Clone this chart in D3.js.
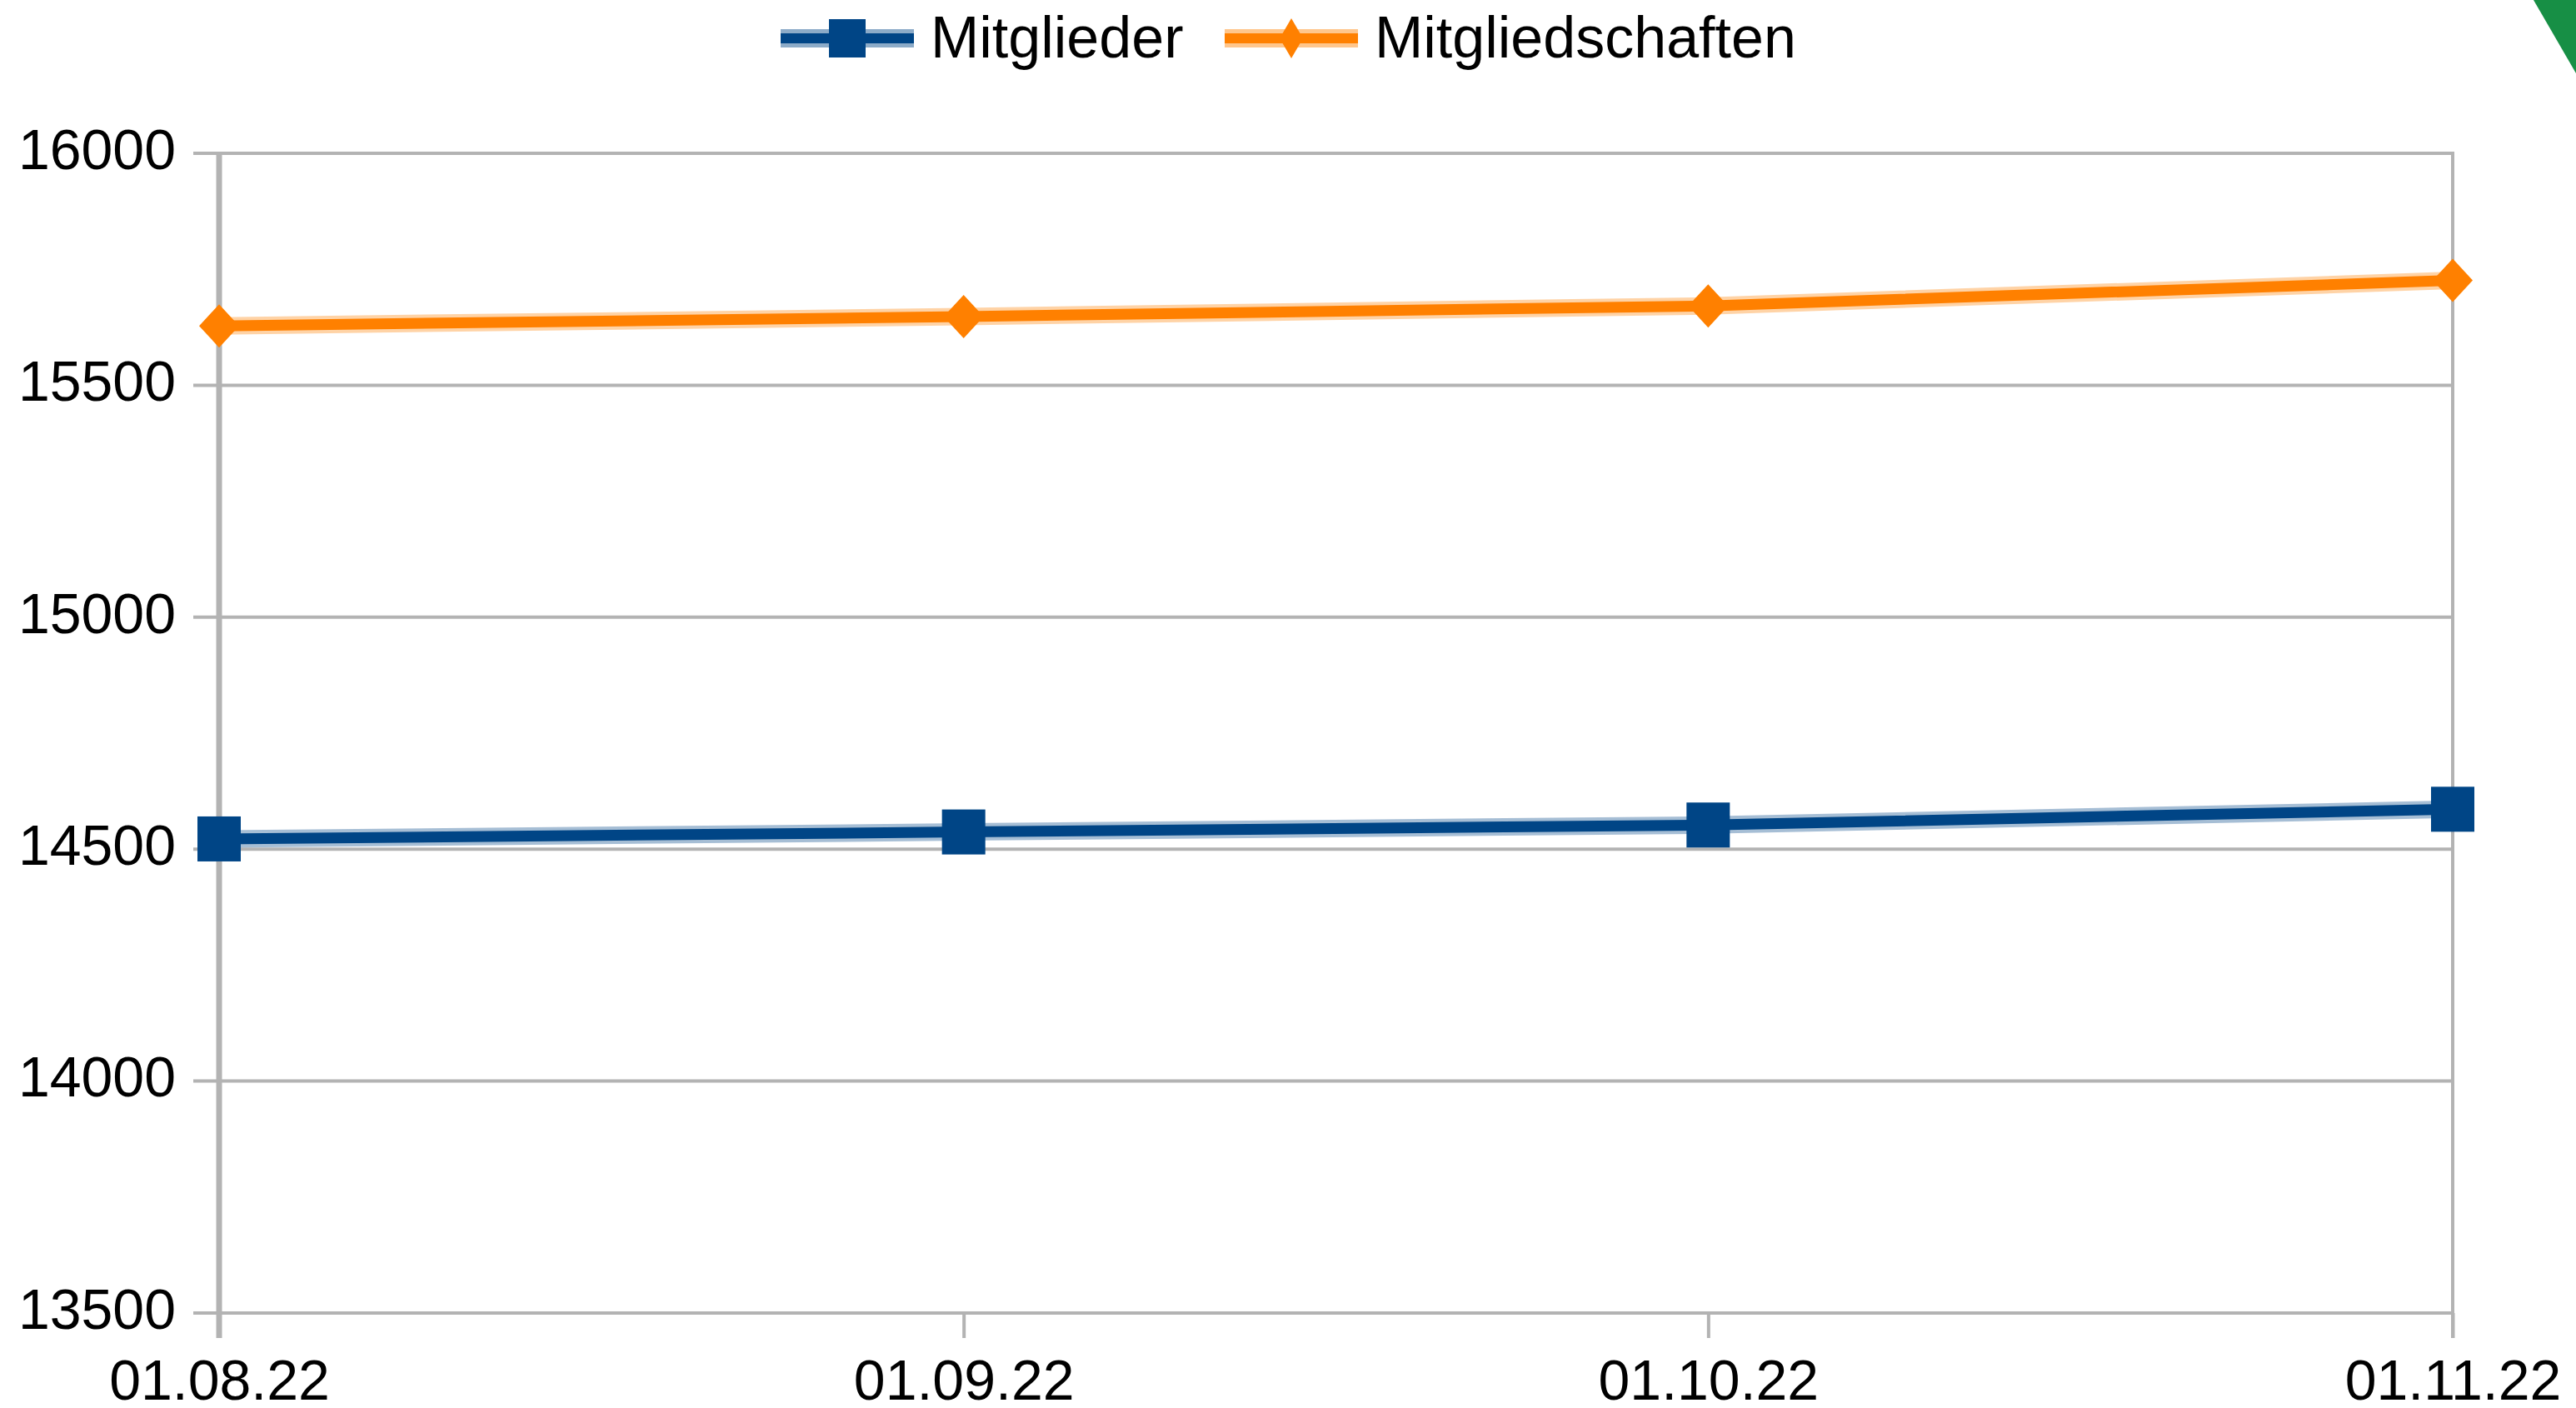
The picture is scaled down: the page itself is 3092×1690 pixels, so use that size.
<!DOCTYPE html>
<html>
<head>
<meta charset="utf-8">
<script src="https://cdn.jsdelivr.net/npm/d3@7"></script>
<style>
  html, body { margin: 0; padding: 0; background: #fff; }
  svg { display: block; font-family: "Liberation Sans", Arial, sans-serif; }
</style>
</head>
<body>
<div id="chart"></div>
<script>
// Data
const dates = ['01.08.22', '01.09.22', '01.10.22', '01.11.22'];
const mitglieder = [14522, 14537, 14552, 14586];
const mitgliedschaften = [15628, 15648, 15671, 15726];
const yTicks = [13500, 14000, 14500, 15000, 15500, 16000];
const seriesNames = ['Mitglieder', 'Mitgliedschaften'];

const width = 3092, height = 1690;
const plotLeft = 263, plotRight = 2944, plotTop = 184, plotBottom = 1576;
const gridColor = '#b3b3b3';
const blue = '#004586', orange = '#ff8000';

const svg = d3.select('#chart').append('svg')
  .attr('width', width)
  .attr('height', height);

svg.append('rect').attr('width', width).attr('height', height).attr('fill', '#fff');

const x = d3.scalePoint().domain(dates).range([plotLeft, plotRight]);
const y = d3.scaleLinear().domain([13500, 16000]).range([plotBottom, plotTop]);

// Horizontal grid lines (extend left as ticks)
svg.append('g')
  .selectAll('line')
  .data(yTicks)
  .enter().append('line')
  .attr('x1', plotLeft - 31)
  .attr('x2', plotRight)
  .attr('y1', d => y(d))
  .attr('y2', d => y(d))
  .attr('stroke', gridColor)
  .attr('stroke-width', 4);

// Y axis labels
const yAxis = svg.append('g')
  .attr('transform', `translate(${plotLeft},0)`)
  .call(d3.axisLeft(y).tickValues(yTicks).tickSize(0).tickPadding(52).tickFormat(d3.format('d')));
yAxis.select('.domain').remove();
yAxis.selectAll('text')
  .attr('font-size', 68)
  .attr('fill', '#000')
  .attr('font-family', '"Liberation Sans", Arial, sans-serif')
  .attr('dy', '0.27em');

// X axis ticks and labels
const xAxis = svg.append('g')
  .attr('transform', `translate(0,${plotBottom})`)
  .call(d3.axisBottom(x).tickSize(30).tickPadding(26));
xAxis.select('.domain').remove();
xAxis.selectAll('line').attr('stroke', gridColor).attr('stroke-width', 4);
xAxis.selectAll('text')
  .attr('font-size', 68)
  .attr('fill', '#000')
  .attr('font-family', '"Liberation Sans", Arial, sans-serif');

// Left axis (thicker) and right border
svg.append('line')
  .attr('x1', plotLeft).attr('x2', plotLeft)
  .attr('y1', plotTop).attr('y2', plotBottom + 30)
  .attr('stroke', gridColor).attr('stroke-width', 7);
svg.append('line')
  .attr('x1', plotRight).attr('x2', plotRight)
  .attr('y1', plotTop - 2).attr('y2', plotBottom + 30)
  .attr('stroke', gridColor).attr('stroke-width', 4);

const line = d3.line()
  .x((d, i) => x(dates[i]))
  .y(d => y(d));

function drawSeries(values, color) {
  // soft halo like the anti-aliased original
  svg.append('path')
    .datum(values)
    .attr('d', line)
    .attr('fill', 'none')
    .attr('stroke', color)
    .attr('stroke-opacity', 0.35)
    .attr('stroke-width', 21);
  svg.append('path')
    .datum(values)
    .attr('d', line)
    .attr('fill', 'none')
    .attr('stroke', color)
    .attr('stroke-width', 13);
}

// Mitgliedschaften (orange, diamonds)
drawSeries(mitgliedschaften, orange);
svg.append('g')
  .selectAll('path')
  .data(mitgliedschaften)
  .enter().append('path')
  .attr('d', (d, i) => {
    const cx = x(dates[i]), cy = y(d);
    return `M${cx},${cy - 26} L${cx + 24},${cy} L${cx},${cy + 26} L${cx - 24},${cy} Z`;
  })
  .attr('fill', orange);

// Mitglieder (blue, squares)
drawSeries(mitglieder, blue);
svg.append('g')
  .selectAll('rect')
  .data(mitglieder)
  .enter().append('rect')
  .attr('x', (d, i) => x(dates[i]) - 26)
  .attr('y', d => y(d) - 27)
  .attr('width', 52)
  .attr('height', 54)
  .attr('fill', blue);

// Legend
const legend = svg.append('g');
const legendItems = [
  { name: seriesNames[0], color: blue, x0: 937, shape: 'square' },
  { name: seriesNames[1], color: orange, x0: 1470, shape: 'diamond' }
];
const ly = 46;
legendItems.forEach(item => {
  legend.append('line')
    .attr('x1', item.x0).attr('x2', item.x0 + 160)
    .attr('y1', ly).attr('y2', ly)
    .attr('stroke', item.color).attr('stroke-opacity', 0.45).attr('stroke-width', 22);
  legend.append('line')
    .attr('x1', item.x0).attr('x2', item.x0 + 160)
    .attr('y1', ly).attr('y2', ly)
    .attr('stroke', item.color).attr('stroke-width', 12);
  const cx = item.x0 + 80;
  if (item.shape === 'square') {
    legend.append('rect')
      .attr('x', cx - 22).attr('y', ly - 23)
      .attr('width', 44).attr('height', 46)
      .attr('fill', item.color);
  } else {
    legend.append('path')
      .attr('d', `M${cx},${ly - 24} L${cx + 14},${ly} L${cx},${ly + 24} L${cx - 14},${ly} Z`)
      .attr('fill', item.color);
  }
  legend.append('text')
    .attr('x', item.x0 + 180)
    .attr('y', 69)
    .attr('font-size', 70)
    .attr('fill', '#000')
    .text(item.name);
});

// Green corner decoration (top right)
svg.append('path')
  .attr('d', `M3041,0 L${width},0 L${width},88 Z`)
  .attr('fill', '#178f45');
</script>
</body>
</html>
